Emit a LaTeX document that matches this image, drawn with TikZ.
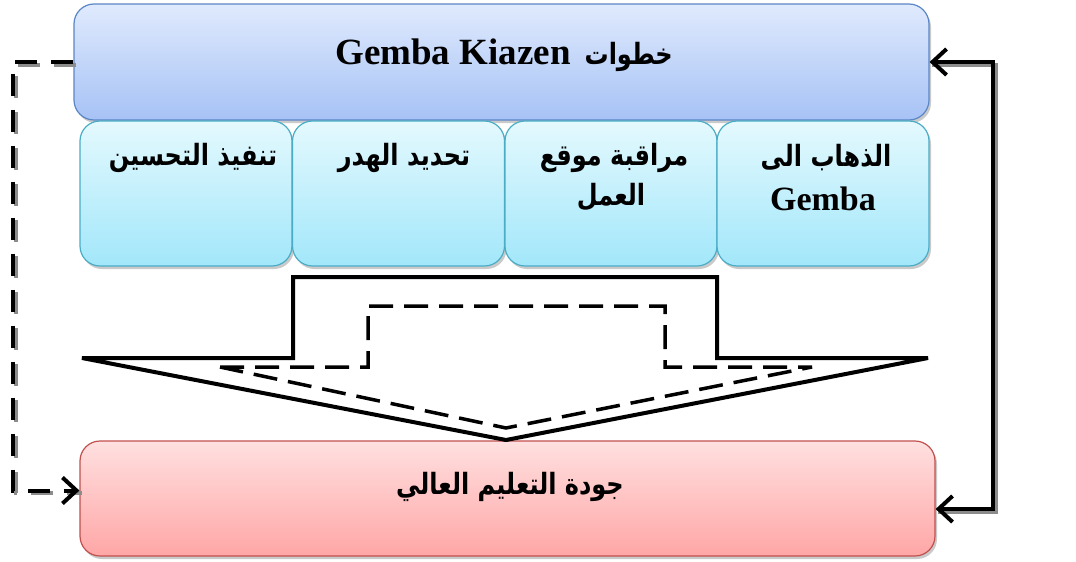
\documentclass[tikz,border=0pt]{standalone}
\usepackage{graphicx}
\usepackage{fontspec}
\setmainfont{Liberation Serif}
\newfontfamily\arabicfont[Script=Arabic]{DejaVu Sans}
\TeXXeTstate=1
\usetikzlibrary{arrows.meta,shadows,calc}
\definecolor{topA}{HTML}{E0EAFD}
\definecolor{topB}{HTML}{A6C2F5}
\definecolor{topD}{HTML}{5B86C6}
\definecolor{subA}{HTML}{E4F9FE}
\definecolor{subB}{HTML}{A2E7FA}
\definecolor{subD}{HTML}{4BACC6}
\definecolor{botA}{HTML}{FFE0E0}
\definecolor{botB}{HTML}{FFA6A6}
\definecolor{botD}{HTML}{C0504D}
\newcommand\artxt[1]{\scalebox{1}[1.22]{\arabicfont\bfseries\beginR #1\endR}}
\tikzset{
  boxbase/.style={rectangle, rounded corners=20pt, line width=1.2pt, inner sep=0pt,
     drop shadow={shadow xshift=2pt, shadow yshift=-3pt, opacity=0.35, fill=black!60}},
  topbox/.style={boxbase, draw=topD, top color=topA, bottom color=topB,
     minimum width=855pt, minimum height=116pt},
  subbox/.style={boxbase, draw=subD, top color=subA, bottom color=subB,
     minimum width=212pt, minimum height=145pt},
  botbox/.style={boxbase, draw=botD, top color=botA, bottom color=botB,
     minimum width=855pt, minimum height=115pt},
  lbl/.style={font=\fontsize{34}{40}\selectfont\bfseries, align=center, text=black, inner sep=0pt},
  albl/.style={font=\fontsize{24}{40}\selectfont, align=center, text=black, inner sep=0pt},
  connb/.style={line width=4pt, {Straight Barb[length=14pt,width=26pt,line width=4pt]}-{Straight Barb[length=14pt,width=26pt,line width=4pt]}},
  shd/.style={draw=black!45, transform canvas={xshift=2.5pt,yshift=-2.5pt}},
  dashline/.style={dash pattern=on 22pt off 14pt},
  arrowshape/.style={draw=black, line width=4pt, fill=white, line join=miter},
  innerdash/.style={draw=black, line width=3.5pt, dash pattern=on 24pt off 11pt}
}
\begin{document}
\begin{tikzpicture}[x=1pt,y=-1pt]
\useasboundingbox (0,0) rectangle (1076,562);
% boxes
\node[topbox] (top) at (501.5,62) {};
\node[subbox] (s1) at (186,193.5) {};
\node[subbox] (s2) at (398.5,193.5) {};
\node[subbox] (s3) at (611,193.5) {};
\node[subbox] (s4) at (823,193.5) {};
\node[botbox] (bot) at (507.5,498.5) {};
% texts
\node[albl, anchor=base] (ttop) at (504,64) {{\fontsize{37}{40}\selectfont\bfseries Gemba Kiazen}\hspace{14pt}\artxt{خطوات}};
\node[albl] (t1) at (193,158) {\artxt{تنفيذ التحسين}};
\node[albl] (t2) at (404,158) {\artxt{تحديد الهدر}};
\node[albl] (t3a) at (614,158) {\artxt{مراقبة موقع}};
\node[albl] (t3b) at (611,197) {\artxt{العمل}};
\node[albl] (t4a) at (826,158) {\artxt{الذهاب الى}};
\node[lbl] (t4b) at (823,199) {Gemba};
\node[albl] (tbot) at (510,487) {\artxt{جودة التعليم العالي}};
% big arrow shape
\draw[arrowshape] (293,277) -- (717,277) -- (717,358) -- (928,358) -- (506,440) -- (82,358) -- (293,358) -- cycle;
\draw[innerdash] (220,367) -- (368,367) -- (368,306) -- (665,306) -- (665,367) -- (812,367) -- (506,428) -- cycle;
% connectors
\coordinate (lc) at (13,490.5);
\coordinate (bl) at ($(bot.west)+(0,-8)$);
\coordinate (rc) at (993,509);
\coordinate (br) at ($(bot.east)+(0,10.5)$);
\coordinate (rt) at (993,62);
\draw[shd, line width=4pt, dashline] (top.west) -| (lc) -- (bl);
\draw[line width=4pt, dashline, -{Straight Barb[length=14pt,width=26pt,line width=4pt]}] (top.west) -| (lc) -- (bl);
\draw[shd, line width=4pt] (br) -- (rc) -- (rt) -- (top.east);
\draw[connb] (br) -- (rc) -- (rt) -- (top.east);
\end{tikzpicture}
\end{document}
